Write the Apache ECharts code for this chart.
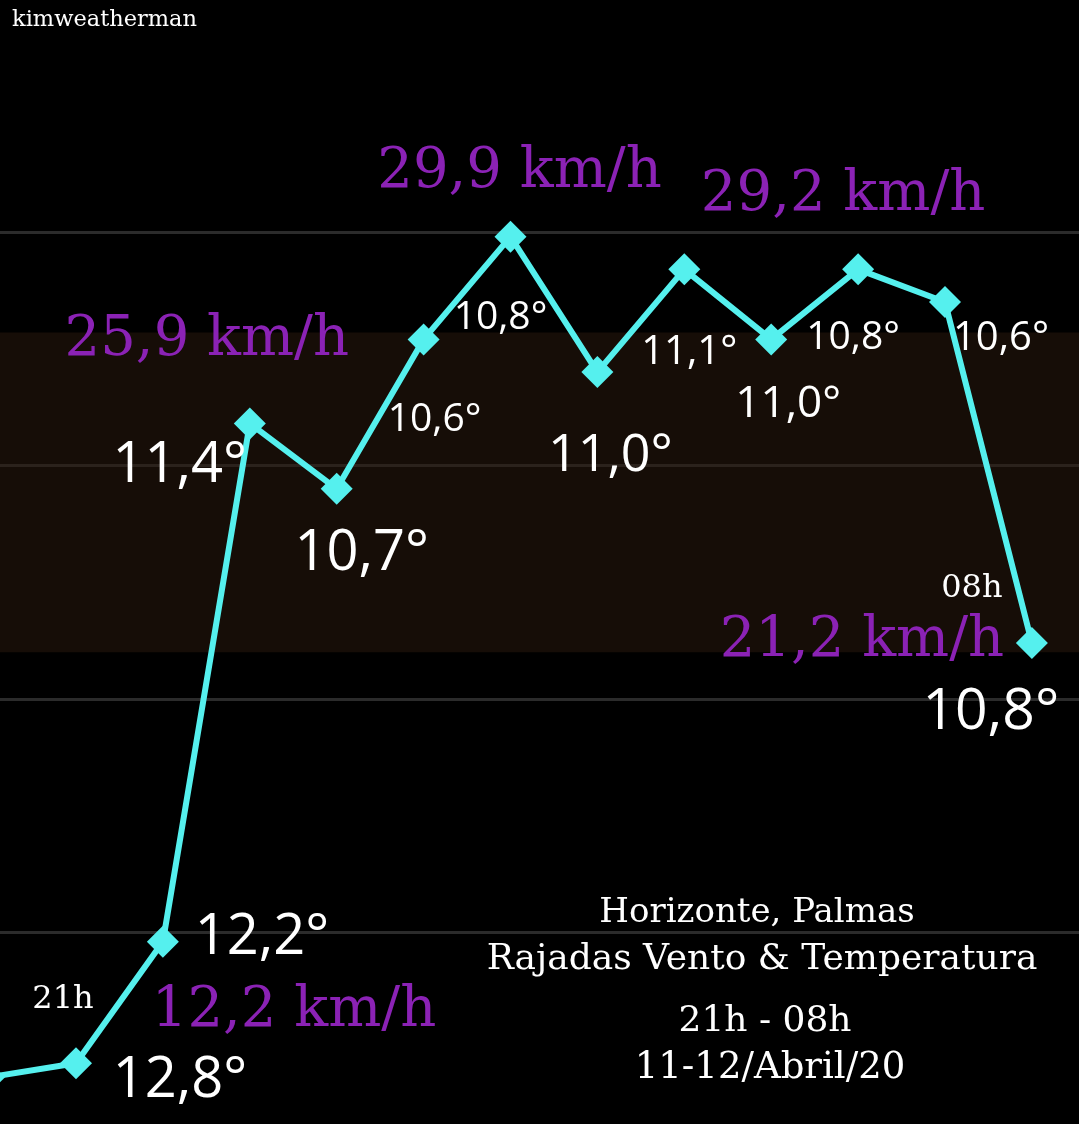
<!DOCTYPE html>
<html>
<head>
<meta charset="utf-8">
<script src="https://cdn.jsdelivr.net/npm/echarts@6/dist/echarts.min.js"></script>
<style>
html,body{margin:0;padding:0;background:#000;}
#c{width:1079px;height:1124px;}
</style>
</head>
<body>
<div id="c"></div>
<script>
// ---- data ----
var hours = ['20h','21h','22h','23h','00h','01h','02h','03h','04h','05h','06h','07h','08h'];
var gusts = [11.9, 12.2, 14.8, 25.9, 24.5, 27.7, 29.9, 27.0, 29.2, 27.7, 29.2, 28.5, 21.2];
var temps = [null, 12.8, 12.2, 11.4, 10.7, 10.6, 10.8, 11.0, 11.1, 11.0, 10.8, 10.6, 10.8];
var gustLabelIdx = [1, 3, 6, 10, 12];
var timeLabelIdx = [1, 12];
var bandRange = [21, 27.85];
var gridValues = {min: 10, max: 35, step: 5};
var titleLines = ['Horizonte, Palmas', 'Rajadas Vento & Temperatura', '21h - 08h', '11-12/Abril/20'];
var credit = 'kimweatherman';

// ---- label placement (style, not data) ----
var tempPlace = {
  1: {o: [104, 18], s: 56}, 2: {o: [99, -4], s: 56}, 3: {o: [-70, 43], s: 56},
  4: {o: [25, 65], s: 56}, 5: {o: [11, 80], s: 39}, 6: {o: [-10, 81], s: 39},
  7: {o: [13, 84], s: 52}, 8: {o: [5, 83], s: 40}, 9: {o: [17, 65], s: 44},
  10: {o: [-5, 69], s: 39}, 11: {o: [56, 37], s: 40}, 12: {o: [-41, 70], s: 57}
};
var gustPlace = {1: [218, -52], 3: [-43, -83], 6: [9, -64], 10: [-15, -74], 12: [-170, -2]};
var timePlace = {1: [-13, -64], 12: [-60, -54]};

function fmt(v) { return v.toFixed(1).replace('.', ','); }

var SANS = '"Open Sans", "Noto Sans", sans-serif';
var SERIF = '"DejaVu Serif", serif';
var PURPLE = '#8b22b5';
var CYAN = '#55f0ee';

var tempData = [], gustData = [], timeData = [];
hours.forEach(function (h, i) {
  if (temps[i] != null && tempPlace[i]) {
    tempData.push({
      value: [h, gusts[i]],
      label: {show: true, formatter: fmt(temps[i]) + '°', offset: tempPlace[i].o, fontSize: tempPlace[i].s}
    });
  }
  if (gustLabelIdx.indexOf(i) >= 0) {
    gustData.push({value: [h, gusts[i]], label: {show: true, formatter: fmt(gusts[i]) + ' km/h', offset: gustPlace[i]}});
  }
  if (timeLabelIdx.indexOf(i) >= 0) {
    timeData.push({value: [h, gusts[i]], label: {show: true, formatter: h, offset: timePlace[i]}});
  }
});

function labelSeries(data, base) {
  return {
    type: 'scatter', data: data, symbolSize: 1, z: 5, silent: true,
    itemStyle: {color: 'rgba(0,0,0,0)', opacity: 1},
    label: Object.assign({position: 'inside', align: 'center', verticalAlign: 'middle', opacity: 1}, base)
  };
}

var titleY = [913, 960, 1022, 1068];
var titleSize = [34, 36, 36, 37];
var titleX = [757, 762, 765, 770];
var graphics = titleLines.map(function (t, i) {
  return {type: 'text', x: titleX[i], y: titleY[i], z: 10,
    style: {text: t, fill: '#fff', font: titleSize[i] + 'px ' + SERIF, align: 'center', verticalAlign: 'middle',
      textAlign: 'center', textVerticalAlign: 'middle'}};
});
graphics.push({type: 'text', x: 12, y: 20, z: 10,
  style: {text: credit, fill: '#fff', font: '22.5px ' + SERIF, align: 'left', verticalAlign: 'middle', textVerticalAlign: 'middle'}});

var chart = echarts.init(document.getElementById('c'), null, {renderer: 'canvas'});
chart.setOption({
  backgroundColor: '#000',
  animation: false,
  grid: {left: -10.9, right: -39.8, top: -1.5, height: 1167.5, containLabel: false, outerBoundsMode: 'none'},
  xAxis: {type: 'category', data: hours, boundaryGap: false, show: false, min: 0, max: hours.length},
  yAxis: {
    type: 'value', min: gridValues.min, max: gridValues.max, interval: gridValues.step,
    axisLabel: {show: false}, axisTick: {show: false}, axisLine: {show: false},
    splitLine: {show: true, showMinLine: false, showMaxLine: false, lineStyle: {color: '#2b2b2b', width: 3}}
  },
  graphic: graphics,
  series: [
    {
      type: 'line', data: gusts, z: 3,
      symbol: 'diamond', symbolSize: 32,
      lineStyle: {color: CYAN, width: 6},
      itemStyle: {color: CYAN},
      markArea: {
        silent: true,
        itemStyle: {color: 'rgba(44,26,14,0.5)'},
        data: [[{yAxis: bandRange[0]}, {yAxis: bandRange[1]}]]
      }
    },
    labelSeries(tempData, {color: '#fff', fontFamily: SANS}),
    labelSeries(gustData, {color: PURPLE, fontFamily: SERIF, fontSize: 56}),
    labelSeries(timeData, {color: '#fff', fontFamily: SERIF, fontSize: 32})
  ]
});
</script>
</body>
</html>
